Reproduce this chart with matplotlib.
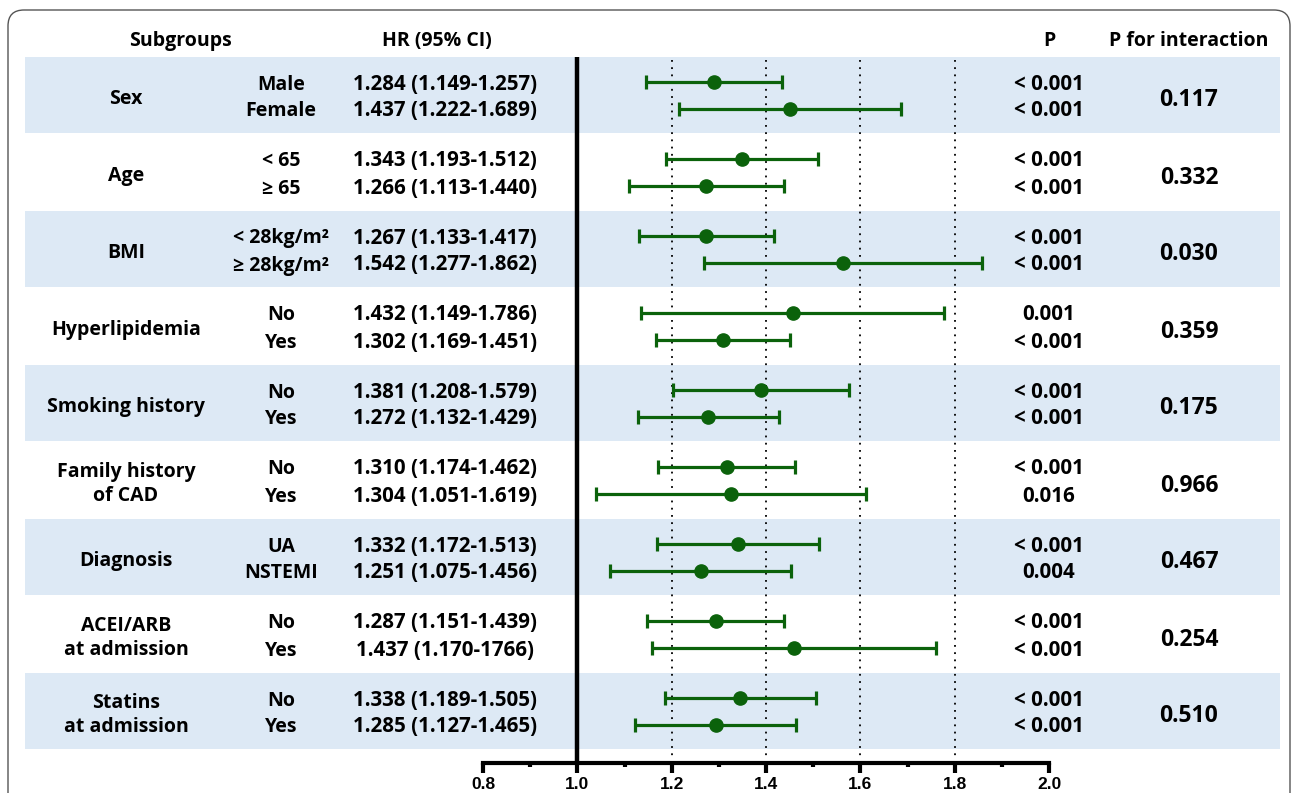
import matplotlib
matplotlib.use("Agg")
import matplotlib.pyplot as plt
import matplotlib.transforms as mtransforms
from matplotlib.patches import Rectangle, FancyBboxPatch
from matplotlib.ticker import MultipleLocator

# ---------------- data ----------------
groups = ["Sex", "Age", "BMI", "Hyperlipidemia", "Smoking history",
          "Family history\nof CAD", "Diagnosis", "ACEI/ARB\nat admission",
          "Statins\nat admission"]
subgroups = ["Male", "Female", "< 65", "\u2265 65", "< 28kg/m\u00b2", "\u2265 28kg/m\u00b2",
             "No", "Yes", "No", "Yes", "No", "Yes", "UA", "NSTEMI",
             "No", "Yes", "No", "Yes"]
hr_text = ["1.284 (1.149-1.257)", "1.437 (1.222-1.689)",
           "1.343 (1.193-1.512)", "1.266 (1.113-1.440)",
           "1.267 (1.133-1.417)", "1.542 (1.277-1.862)",
           "1.432 (1.149-1.786)", "1.302 (1.169-1.451)",
           "1.381 (1.208-1.579)", "1.272 (1.132-1.429)",
           "1.310 (1.174-1.462)", "1.304 (1.051-1.619)",
           "1.332 (1.172-1.513)", "1.251 (1.075-1.456)",
           "1.287 (1.151-1.439)", "1.437 (1.170-1766)",
           "1.338 (1.189-1.505)", "1.285 (1.127-1.465)"]
p_values = ["< 0.001", "< 0.001", "< 0.001", "< 0.001", "< 0.001", "< 0.001",
            "0.001", "< 0.001", "< 0.001", "< 0.001", "< 0.001", "0.016",
            "< 0.001", "0.004", "< 0.001", "< 0.001", "< 0.001", "< 0.001"]
p_interaction = ["0.117", "0.332", "0.030", "0.359", "0.175",
                 "0.966", "0.467", "0.254", "0.510"]
# plotted estimates and CI bounds (as drawn)
est = [1.289, 1.450, 1.350, 1.273, 1.273, 1.563, 1.457, 1.308, 1.390,
       1.278, 1.317, 1.326, 1.340, 1.262, 1.293, 1.459, 1.345, 1.293]
lo = [1.146, 1.216, 1.189, 1.109, 1.131, 1.268, 1.136, 1.166, 1.203,
      1.129, 1.171, 1.039, 1.168, 1.070, 1.148, 1.158, 1.186, 1.123]
hi = [1.434, 1.686, 1.510, 1.438, 1.416, 1.857, 1.778, 1.451, 1.577,
      1.428, 1.462, 1.612, 1.512, 1.453, 1.438, 1.760, 1.505, 1.464]
x_ticks = [0.8, 1.0, 1.2, 1.4, 1.6, 1.8, 2.0]
ref_lines = [1.2, 1.4, 1.6, 1.8]

# ---------------- style ----------------
W, H = 1292, 793
fig = plt.figure(figsize=(W / 100, H / 100), dpi=100)
fam = ["Open Sans", "DejaVu Sans"]
green = "#0b620b"
band_color = "#dde9f5"

ax_left, ax_right = 483 / W, 1049 / W
ax_top_px, ax_bot_px = 56.5, 763
ax = fig.add_axes([ax_left, (H - ax_bot_px) / H, ax_right - ax_left,
                   (ax_bot_px - ax_top_px) / H])
ax.patch.set_visible(False)
ax.set_xlim(0.8, 2.0)
ax.set_ylim((ax_bot_px - 95) / 77, -0.5)

off = 13.5 / 77
ypos = []
for g in range(len(groups)):
    ypos += [g - off, g + off]

blend = mtransforms.blended_transform_factory(fig.transFigure, ax.transData)


def shifted(dy_px):
    """blended transform shifted down by dy_px pixels"""
    return mtransforms.offset_copy(blend, fig=fig, x=0, y=-dy_px, units="dots")


# bands
for g in range(len(groups)):
    if g % 2 == 0:
        ax.add_patch(Rectangle((25 / W, g - 0.49), (1280 - 25) / W, 0.98,
                               transform=blend, facecolor=band_color,
                               edgecolor="none", clip_on=False, zorder=0))

# reference lines
ax.vlines(ref_lines, -0.46, (756 - 95) / 77, colors="black",
          linestyles=(0, (1, 3)), linewidth=1.3, zorder=1)
ax.axvline(1.0, color="black", linewidth=3.2, zorder=2)

# error bars
ax.errorbar(est, ypos, xerr=[[e - l for e, l in zip(est, lo)],
                             [h - e for e, h in zip(est, hi)]],
            fmt="o", color=green, ecolor=green, markersize=9.5,
            elinewidth=2.3, capsize=5, capthick=2.3, zorder=3)

# x axis
for s in ["top", "right", "left"]:
    ax.spines[s].set_visible(False)
ax.spines["bottom"].set_linewidth(3)
ax.set_yticks([])
ax.set_xticks(x_ticks)
ax.set_xticklabels([f"{t:.1f}" for t in x_ticks])
ax.xaxis.set_minor_locator(MultipleLocator(0.1))
ax.tick_params(axis="x", which="major", length=7, width=3, direction="out",
               pad=3, labelsize=12.5)
ax.tick_params(axis="x", which="minor", length=3.2, width=3, direction="out")
for lab in ax.get_xticklabels():
    lab.set_fontfamily("Liberation Sans")
    lab.set_fontweight("bold")

# text
fs = 14
fs_num = 14.8
base = dict(ha="center", fontfamily=fam, fontweight="bold", color="black")
hy = (38 - 95) / 77
for xp, t in [(180, "Subgroups"), (437, "HR (95% CI)"), (1049, "P"),
              (1189, "P for interaction")]:
    ax.text(xp / W, hy, t, va="center", fontsize=fs, transform=shifted(3), **base)

for g, name in enumerate(groups):
    ax.text(126 / W, g, name, linespacing=1.25, va="center", fontsize=fs,
            transform=shifted(4), **base)
    ax.text(1189 / W, g, p_interaction[g], va="center", fontsize=16.5,
            transform=shifted(5.5), **base)

tb = shifted(8)
for i, y in enumerate(ypos):
    ax.text(281 / W, y, subgroups[i], va="baseline", fontsize=fs, transform=tb, **base)
    ax.text(445 / W, y, hr_text[i], va="baseline", fontsize=fs_num, transform=tb, **base)
    ax.text(1049 / W, y, p_values[i], va="baseline", fontsize=fs_num, transform=tb, **base)

# border
border = FancyBboxPatch((8 / 100, -0.5), (1290 - 8) / 100, (H - 10) / 100 + 0.5,
                        boxstyle="round,pad=0,rounding_size=0.16",
                        transform=fig.dpi_scale_trans, facecolor="none",
                        edgecolor="#555555", linewidth=1.0, clip_on=False)
fig.patches.append(border)

fig.savefig("out.png", dpi=100, facecolor="white")
